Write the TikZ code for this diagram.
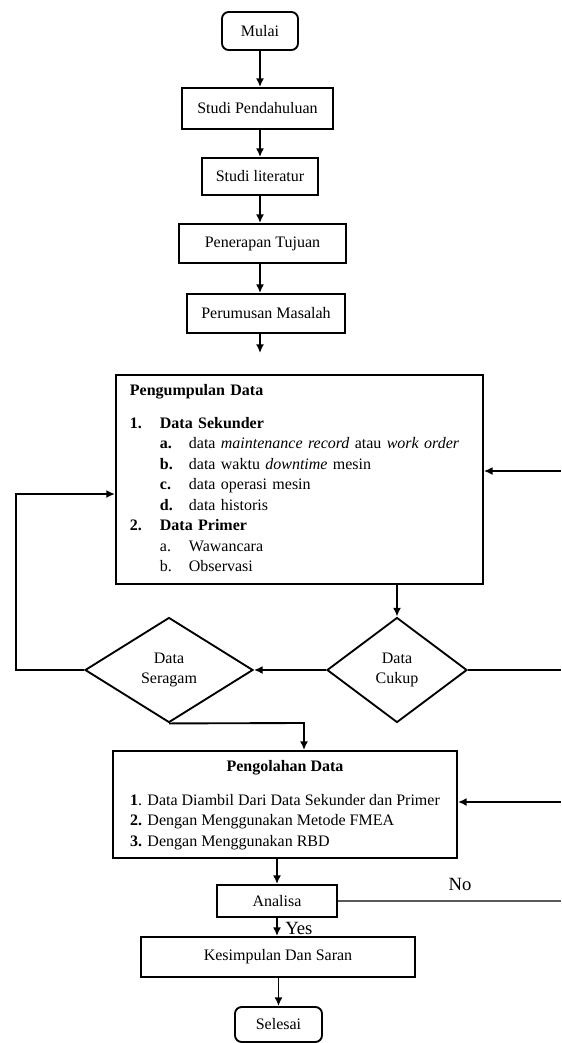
\documentclass[tikz,border=0pt]{standalone}
\usepackage{fontspec}
\setmainfont{Liberation Serif}
\usepackage{tikz}
\usetikzlibrary{shapes,arrows,arrows.meta,positioning,calc}

\newcommand{\twelve}{\fontsize{12}{14.5}\selectfont}
\tikzset{
	box/.style={draw, line width=1.4pt, rectangle, inner sep=2pt},
	terminal/.style={box, rounded corners=5pt},
	decision/.style={draw, line width=1.4pt, diamond, align=center, inner sep=0pt},
	line/.style={line width=1.4pt},
	arr/.style={line, -{Latex[length=6.5pt,width=6pt]}},
	tag/.style={font=\fontsize{14}{16}\selectfont, inner sep=0pt}
}

\begin{document}
\begin{tikzpicture}[x=0.75pt, y=-0.75pt, font=\twelve]
	\useasboundingbox (0,0) rectangle (561,1043);
	\coordinate (spine) at (260,0);

	% top chain
	\node[terminal, minimum width=57pt, minimum height=28.5pt] (mulai) at (260,31) {Mulai};
	\node[box, minimum width=113.25pt, minimum height=30.75pt] (pendahuluan) at (257.5,108.5) {Studi Pendahuluan};
	\node[box, minimum width=87pt, minimum height=27.75pt] (literatur) at (260,176.5) {Studi literatur};
	\node[box, minimum width=125.25pt, minimum height=29.25pt] (tujuan) at (262.5,243.5) {Penerapan Tujuan};
	\node[box, minimum width=118.5pt, minimum height=29.25pt] (masalah) at (266,313.5) {Perumusan Masalah};
	\coordinate (gap) at (260,353);

	% data collection
	\node[box, anchor=north west, minimum height=156.75pt, text width=254.25pt, inner xsep=10.5pt, align=left] (pengumpulan) at (115,374) {%
		\renewcommand{\arraystretch}{1.06}%
		\begin{tabular}{@{}p{22.5pt}@{}p{21.75pt}@{}l@{}}
			\multicolumn{3}{@{}l@{}}{\textbf{Pengumpulan Data}}\\[9.3pt]
			\textbf{1.} & \multicolumn{2}{@{}l@{}}{\textbf{Data Sekunder}}\\
			& \textbf{a.} & data \textit{maintenance record} atau \textit{work order}\\
			& \textbf{b.} & data waktu \textit{downtime} mesin\\
			& \textbf{c.} & data operasi mesin\\
			& \textbf{d.} & data historis\\
			\textbf{2.} & \multicolumn{2}{@{}l@{}}{\textbf{Data Primer}}\\
			& a. & Wawancara\\
			& b. & Observasi
		\end{tabular}};

	\node[decision, minimum width=105pt, minimum height=78.75pt] (cukup) at (397,670) {Data\\Cukup};
	\node[decision, minimum width=126pt, minimum height=78.75pt] (seragam) at (169,670) {Data\\Seragam};

	% processing
	\node[box, minimum width=258pt, minimum height=80.25pt] (pengolahan) at (285,804.5) {%
		\renewcommand{\arraystretch}{1.06}%
		\begin{tabular}{@{}l@{}}
			\multicolumn{1}{@{}c@{}}{\textbf{Pengolahan Data}}\\[10.1pt]
			\textbf{1}. Data Diambil Dari Data Sekunder dan Primer\\
			\textbf{2.} Dengan Menggunakan Metode FMEA\\
			\textbf{3.} Dengan Menggunakan RBD
		\end{tabular}};

	\node[box, minimum width=90pt, minimum height=24pt] (analisa) at (277,901) {Analisa};
	\node[box, minimum width=205.5pt, minimum height=30pt] (kesimpulan) at (278,957) {Kesimpulan Dan Saran};
	\node[terminal, minimum width=65.25pt, minimum height=26.25pt] (selesai) at (278.5,1024.5) {Selesai};

	% loose ends on the right and left
	\coordinate (backA) at (561,471);
	\coordinate (backB) at (561,670);
	\coordinate (backC) at (561,802);
	\coordinate (backD) at (561,901);
	\coordinate (loop) at (16,494);
	\coordinate (drop) at (304,723);

	\draw[arr] (mulai.south -| spine) -- (pendahuluan.north -| spine);
	\draw[arr] (pendahuluan.south -| spine) -- (literatur.north -| spine);
	\draw[arr] (literatur.south -| spine) -- (tujuan.north -| spine);
	\draw[arr] (tujuan.south -| spine) -- (masalah.north -| spine);
	\draw[arr] (masalah.south -| spine) -- (gap);

	\draw[arr] (backA) -- (backA -| pengumpulan.east);
	\draw[arr] (cukup.north |- pengumpulan.south) -- (cukup.north);
	\draw[arr] (cukup.west) -- (seragam.east);
	\draw[line] (cukup.east) -- (backB);
	\draw[arr] (seragam.west) -| (loop) -- (loop -| pengumpulan.west);
	\draw[arr] (seragam.south) -- (drop) -- (drop |- pengolahan.north);
	\draw[arr] (backC) -- (backC -| pengolahan.east);

	\draw[arr] (analisa.north |- pengolahan.south) -- (analisa.north);
	\draw[line, black!65, line width=1.6pt] (analisa.east) -- (backD);
	\node[tag] (no) at (460,884) {No};
	\draw[arr] (analisa.south) -- (analisa.south |- kesimpulan.north);
	\node[tag, anchor=west] (yes) at (285,928) {Yes};
	\draw[arr] (kesimpulan.south -| selesai.north) -- (selesai.north);
\end{tikzpicture}
\end{document}
